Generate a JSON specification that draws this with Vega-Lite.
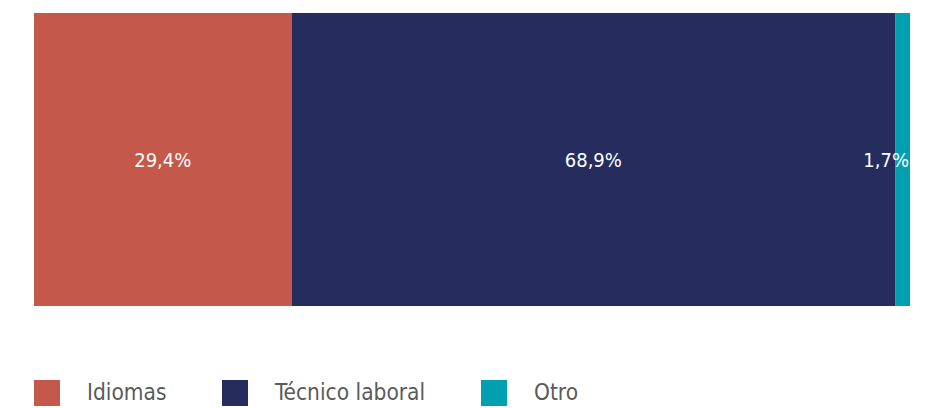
{
  "$schema": "https://vega.github.io/schema/vega-lite/v6.json",
  "width": 876,
  "height": 293,
  "autosize": {"type": "none"},
  "padding": {"left": 34, "top": 13, "right": 18, "bottom": 102},
  "background": "white",
  "data": {"values": [
    {"grupo": "Tipo", "categoria": "Idiomas", "valor": 29.4, "etiqueta": "29,4%", "orden": 1},
    {"grupo": "Tipo", "categoria": "Técnico laboral", "valor": 68.9, "etiqueta": "68,9%", "orden": 2},
    {"grupo": "Tipo", "categoria": "Otro", "valor": 1.7, "etiqueta": "1,7%", "orden": 3}
  ]},
  "transform": [
    {"stack": "valor", "groupby": ["grupo"], "sort": [{"field": "orden"}], "as": ["inicio", "fin"]},
    {"calculate": "(datum.inicio + datum.fin) / 2", "as": "medio"}
  ],
  "encoding": {
    "y": {"field": "grupo", "type": "nominal", "axis": null, "scale": {"paddingInner": 0, "paddingOuter": 0}}
  },
  "layer": [
    {
      "mark": {"type": "bar"},
      "encoding": {
        "x": {"field": "inicio", "type": "quantitative", "scale": {"domain": [0, 100], "nice": false}, "axis": null},
        "x2": {"field": "fin"},
        "color": {
          "field": "categoria", "type": "nominal",
          "scale": {"domain": ["Idiomas", "Técnico laboral", "Otro"], "range": ["#C4594B", "#252D5E", "#00A0B0"]},
          "legend": {
            "title": null, "orient": "none", "direction": "horizontal",
            "legendX": 0, "legendY": 367,
            "symbolType": "square", "symbolSize": 676, "symbolStrokeWidth": 0, "symbolOpacity": 1,
            "labelFont": "Liberation Sans Narrow, DejaVu Sans Condensed, sans-serif",
            "labelFontSize": 22.5, "labelColor": "#5a5a5a", "labelOffset": 27,
            "columnPadding": 55, "labelLimit": 300
          }
        }
      }
    },
    {
      "transform": [{"filter": "datum.orden < 3"}],
      "mark": {"type": "text", "color": "white", "fontSize": 20, "font": "Liberation Sans Narrow, DejaVu Sans Condensed, sans-serif", "baseline": "middle", "align": "center", "dy": 1},
      "encoding": {
        "x": {"field": "medio", "type": "quantitative"},
        "text": {"field": "etiqueta"}
      }
    },
    {
      "transform": [{"filter": "datum.orden == 3"}],
      "mark": {"type": "text", "color": "white", "fontSize": 20, "font": "Liberation Sans Narrow, DejaVu Sans Condensed, sans-serif", "baseline": "middle", "align": "right", "dx": -1, "dy": 1},
      "encoding": {
        "x": {"field": "fin", "type": "quantitative"},
        "text": {"field": "etiqueta"}
      }
    }
  ],
  "config": {"view": {"stroke": null}}
}
